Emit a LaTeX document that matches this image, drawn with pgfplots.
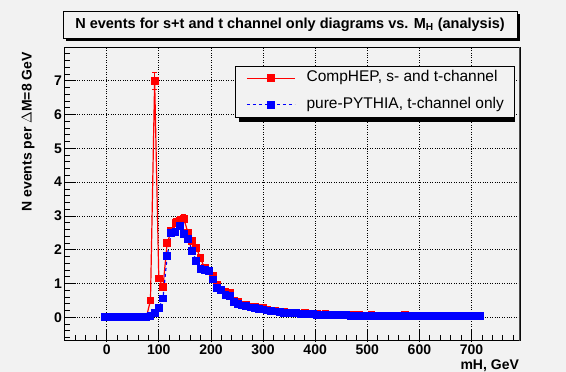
\documentclass[border=0pt]{standalone}
\usepackage{fontspec}
\setmainfont{Liberation Sans}
\usepackage{pgfplots}
\pgfplotsset{compat=1.18}
\usepackage{pgfplotstable}
\usetikzlibrary{shadows}
\definecolor{bg}{gray}{0.95}

% CompHEP, s- and t-channel: x, y, error
\pgfplotstableread{
x y e
-4 0 0
4 0 0
12 0 0
20 0 0
28 0 0
36 0 0
44 0 0
52 0 0
60 0 0
68 0 0
76 0 0
84 0.50 0.05
92 7.00 0.25
100 1.15 0.08
108 0.90 0.07
116 2.20 0.10
124 2.55 0.11
132 2.80 0.12
140 2.85 0.12
148 2.92 0.12
156 2.50 0.11
164 2.25 0.10
172 2.05 0.10
180 1.75 0.09
188 1.45 0.08
196 1.38 0.08
204 1.22 0.08
212 0.95 0.07
220 0.82 0.06
228 0.76 0.06
236 0.72 0.06
244 0.50 0.05
252 0.46 0.05
260 0.38 0.04
268 0.36 0.04
276 0.32 0.04
284 0.31 0.04
292 0.27 0.04
300 0.28 0.04
308 0.22 0.03
316 0.20 0.03
324 0.19 0.03
332 0.16 0.03
340 0.17 0.03
348 0.14 0.03
356 0.13 0.03
364 0.13 0.03
372 0.11 0.02
380 0.12 0.02
388 0.10 0.02
396 0.09 0.02
404 0.10 0.02
412 0.08 0.02
420 0.09 0.02
428 0.07 0.02
436 0.08 0.02
444 0.07 0.02
452 0.06 0.02
460 0.07 0.02
468 0.06 0.02
476 0.05 0.02
484 0.06 0.02
492 0.05 0.02
500 0.05 0.02
508 0.06 0.02
516 0.04 0.02
524 0.05 0.02
532 0.04 0.02
540 0.05 0.02
548 0.04 0.02
556 0.04 0.02
564 0.05 0.02
572 0.06 0.02
580 0.04 0.02
588 0.04 0.02
596 0.05 0.02
604 0.04 0.02
612 0.03 0.02
620 0.04 0.02
628 0.04 0.02
636 0.03 0.02
644 0.04 0.02
652 0.03 0.02
660 0.04 0.02
668 0.03 0.02
676 0.03 0.02
684 0.04 0.02
692 0.03 0.02
700 0.03 0.02
708 0.03 0.02
716 0.03 0.02
}\comphep

% pure-PYTHIA, t-channel only
\pgfplotstableread{
x y
-4 0
4 0
12 0
20 0
28 0
36 0
44 0
52 0
60 0
68 0
76 0
84 0.03
92 0.12
100 0.27
108 0.56
116 1.81
124 2.50
132 2.52
140 2.70
148 2.46
156 2.33
164 1.96
172 1.67
180 1.44
188 1.40
196 1.37
204 1.12
212 0.88
220 0.80
228 0.66
236 0.63
244 0.45
252 0.40
260 0.35
268 0.34
276 0.29
284 0.27
292 0.25
300 0.23
308 0.20
316 0.18
324 0.17
332 0.15
340 0.14
348 0.13
356 0.12
364 0.12
372 0.10
380 0.10
388 0.09
396 0.09
404 0.08
412 0.08
420 0.07
428 0.07
436 0.07
444 0.06
452 0.06
460 0.06
468 0.05
476 0.05
484 0.05
492 0.05
500 0.05
508 0.04
516 0.04
524 0.04
532 0.04
540 0.04
548 0.04
556 0.04
564 0.04
572 0.04
580 0.04
588 0.04
596 0.04
604 0.03
612 0.03
620 0.03
628 0.03
636 0.03
644 0.03
652 0.03
660 0.03
668 0.03
676 0.03
684 0.03
692 0.03
700 0.03
708 0.03
716 0.03
}\pythia

\begin{document}
\begin{tikzpicture}
\fill[bg] (0,0) rectangle (566pt,372pt);
\useasboundingbox (0,0) rectangle (566pt,372pt);

\begin{axis}[
  at={(65pt,31pt)}, anchor=south west,
  scale only axis, width=455pt, height=294pt,
  xmin=-80, xmax=793, ymin=-0.7, ymax=8.0,
  axis background/.style={fill=bg},
  axis line style={black, line width=1pt},
  tick pos=left, tick align=inside,
  xtick={0,100,...,700}, ytick={0,1,...,7},
  minor xtick={-60,-40,...,780},
  minor ytick={-0.6,-0.4,...,7.9},
  major tick length=11pt, minor tick length=5.5pt,
  every tick/.style={black, line width=0.8pt},
  grid=major,
  major grid style={black, dotted, line width=0.8pt},
  /pgf/number format/assume math mode=true,
  ticklabel style={font=\bfseries\fontsize{14}{16}\selectfont, inner sep=0pt},
  xticklabel shift=4pt, yticklabel shift=3pt,
  xlabel={mH, GeV},
  ylabel={N events per $\Delta$M=8 GeV},
  label style={font=\bfseries\fontsize{14}{16}\selectfont, inner sep=0pt},
  xlabel style={at={(axis description cs:0.998,-0.096)}, anchor=base east},
  ylabel style={at={(axis description cs:-0.081,0.983)}, anchor=east},
  legend cell align=left,
  legend image code/.code={\draw[mark repeat=2,mark phase=2,#1] plot coordinates {(0pt,0pt)(24pt,0pt)(48pt,0pt)};},
  legend style={at={(axis description cs:0.3736,0.937)}, anchor=north west,
    draw=black, line width=0.8pt, fill=bg,
    font=\fontsize{15.5}{18}\selectfont,
    inner xsep=11pt, inner ysep=5pt, row sep=12pt, column sep=11pt,
    nodes={inner sep=0pt, text height=11pt, text depth=3.5pt},
    column 2/.style={nodes={text width=195pt}}},
]
% shadow of the legend box, drawn before the legend itself
\fill[black] (axis description cs:0.3824,0.9234) rectangle (axis description cs:0.9890,0.7465);
\addplot[red, line width=1.2pt, mark=square*, mark size=3.3pt, mark options={solid},
  error bars/.cd, y dir=both, y explicit,
  error bar style={red, line width=1pt},
  error mark options={red, mark size=2.5pt, line width=1pt, rotate=90}]
  table[x=x, y=y, y error=e]{\comphep};
\addlegendentry{CompHEP, s- and t-channel}
\addplot[blue, line width=1.2pt, dash pattern=on 3pt off 3pt, mark=square*, mark size=3.3pt, mark options={solid}]
  table[x=x, y=y]{\pythia};
\addlegendentry{pure-PYTHIA, t-channel only}
\draw[black!70, line width=2pt] (rel axis cs:1,0) -- (rel axis cs:1,1);
\end{axis}

\node[draw=black, line width=0.8pt, fill=bg, minimum width=454pt, minimum height=27pt,
  drop shadow={shadow xshift=3pt, shadow yshift=-3pt, fill=black, opacity=1},
  font=\bfseries\fontsize{14.5}{18}\selectfont]
  at (290pt,347.5pt) {N events for s+t and t channel only diagrams vs. M\textsubscript{H} (analysis)};
\end{tikzpicture}
\end{document}
